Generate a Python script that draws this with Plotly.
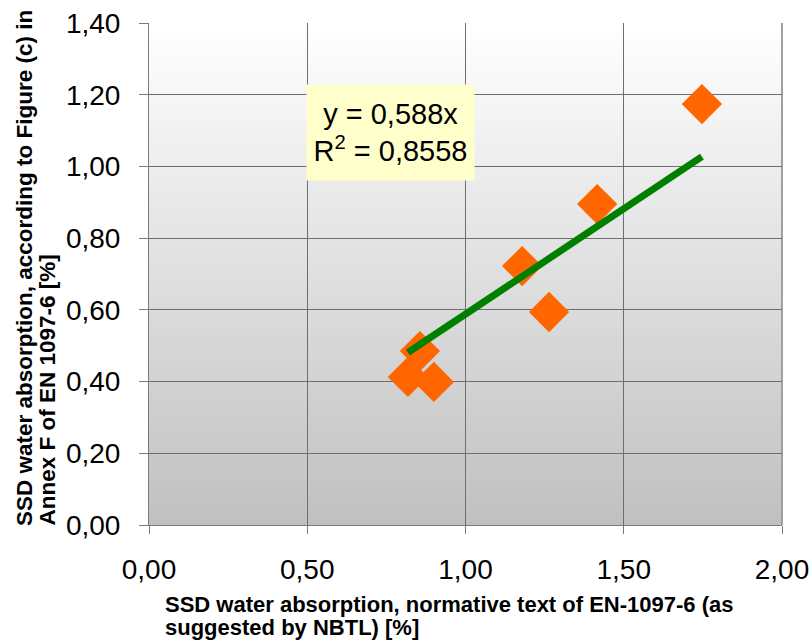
import plotly.graph_objects as go

# Data
x_vals = [1.747, 1.416, 1.179, 1.264, 0.856, 0.818, 0.900]
y_vals = [1.174, 0.895, 0.722, 0.594, 0.485, 0.413, 0.399]
slope = 0.588
eq_text = "y = 0,588x<br>R<sup>2</sup> = 0,8558"

x_ticks = [0.0, 0.5, 1.0, 1.5, 2.0]
y_ticks = [0.0, 0.2, 0.4, 0.6, 0.8, 1.0, 1.2, 1.4]

x_title_lines = ["SSD water absorption, normative text of EN-1097-6 (as",
                 "suggested by NBTL) [%]"]
y_title_lines = ["SSD water absorption, according to Figure (c) in",
                 "Annex F of EN 1097-6 [%]"]

FONT = "Liberation Sans, Arial, sans-serif"

fig = go.Figure()

fig.add_trace(go.Scatter(
    x=x_vals, y=y_vals, mode="markers",
    marker=dict(symbol="diamond", size=31, color="#FF6600", line=dict(width=0)),
    showlegend=False, hoverinfo="skip"))

xmin, xmax = min(x_vals), max(x_vals)
fig.add_trace(go.Scatter(
    x=[xmin, xmax], y=[slope * xmin, slope * xmax], mode="lines",
    line=dict(color="#008000", width=7), showlegend=False, hoverinfo="skip"))

# gradient background (white -> gray)
n = 80
shapes = []
for i in range(n):
    t = (i + 0.5) / n  # 0 at bottom, 1 at top
    c0 = (0xC0, 0xC0, 0xC0)
    c1 = (0xFF, 0xFF, 0xFF)
    c = tuple(int(round(c0[k] + (c1[k] - c0[k]) * t)) for k in range(3))
    shapes.append(dict(type="rect", xref="x domain", yref="y domain",
                       x0=0, x1=1, y0=i / n, y1=(i + 1) / n + 0.002,
                       fillcolor="rgb(%d,%d,%d)" % c, line=dict(width=0),
                       layer="below"))

fig.update_layout(
    width=812, height=641,
    margin=dict(l=149, r=30, t=23, b=116),
    paper_bgcolor="white", plot_bgcolor="white",
    separators=", ",
    font=dict(family=FONT, color="black"),
    shapes=shapes,
    xaxis=dict(range=[0, 2], tickvals=x_ticks, tickformat=".2f", automargin=False,
               showgrid=True, gridcolor="#6E6E6E", gridwidth=1,
               zeroline=False, showline=True, linecolor="#7A7A7A", linewidth=1,
               ticks="outside", ticklen=8, tickcolor="#7A7A7A",
               tickfont=dict(size=28, family=FONT), ticklabelstandoff=11),
    yaxis=dict(range=[0, 1.4], tickvals=y_ticks, tickformat=".2f", automargin=False,
               showgrid=True, gridcolor="#6E6E6E", gridwidth=1,
               zeroline=False, showline=True, linecolor="#7A7A7A", linewidth=1,
               ticks="outside", ticklen=9, tickcolor="#7A7A7A",
               tickfont=dict(size=28, family=FONT), ticklabelstandoff=13),
)

# right border
fig.add_shape(type="line", xref="x domain", yref="y domain", x0=1, x1=1, y0=0, y1=1,
              line=dict(color="#A0A0A0", width=2), layer="below")

fig.add_annotation(
    x=0.763, y=1.0945, xref="x", yref="y",
    text=eq_text, width=161, height=89,
    showarrow=False, align="center", valign="middle", bgcolor="#FFFFCC",
    borderpad=3, font=dict(size=29, family=FONT, color="black"))

for line, xp in zip(y_title_lines, [-0.1975, -0.1611]):
    fig.add_annotation(
        x=xp, y=-0.006, xref="paper", yref="paper",
        xanchor="center", yanchor="bottom", textangle=-90,
        text="<b>" + line + "</b>",
        showarrow=False, font=dict(size=22.5, family=FONT, color="black"))

for line, yp in zip(x_title_lines, [-0.1574, -0.2032]):
    fig.add_annotation(
        x=0.0221, y=yp, xref="paper", yref="paper",
        xanchor="left", yanchor="middle",
        text="<b>" + line + "</b>",
        showarrow=False, font=dict(size=22, family=FONT, color="black"))

fig.write_html("out.html", config={"displayModeBar": False},
               post_script="document.body.style.margin='0';document.body.style.overflow='hidden';")
